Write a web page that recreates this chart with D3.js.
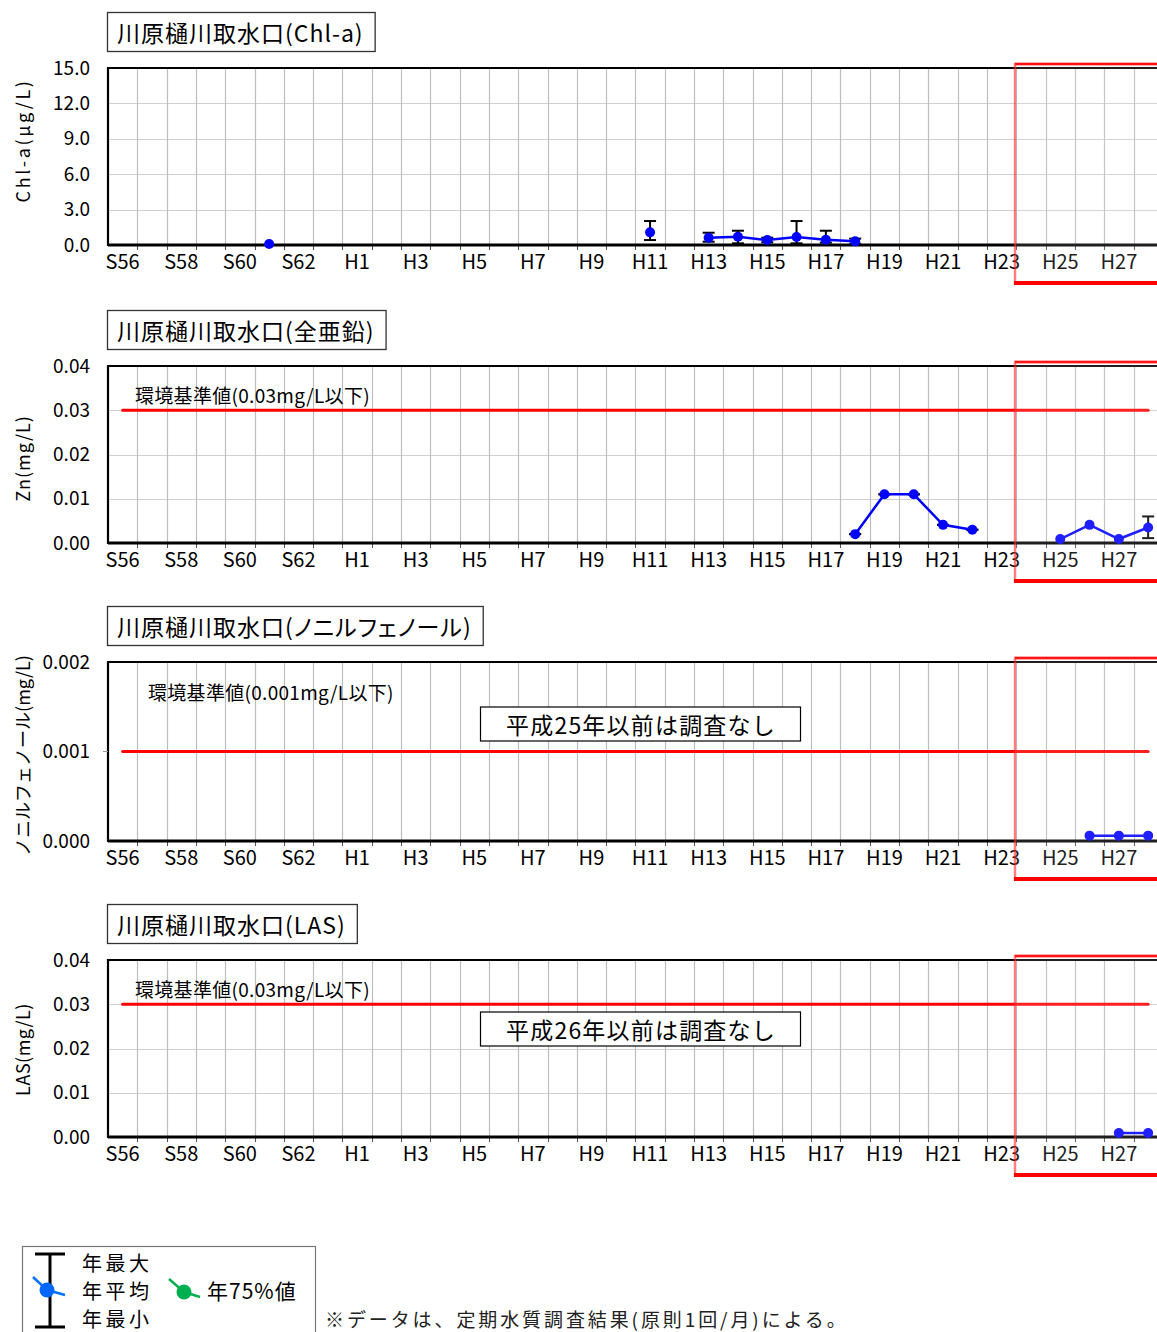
<!DOCTYPE html>
<html><head><meta charset="utf-8">
<script src="https://cdn.jsdelivr.net/npm/d3@7"></script>
<style>
html,body{margin:0;padding:0;background:#fff;}
svg{display:block;}
text{font-family:"Noto Sans CJK JP","Noto Sans",sans-serif;}
</style></head>
<body>
<script>
// ---------- data ----------
const categories = ["S56","S57","S58","S59","S60","S61","S62","S63",
  "H1","H2","H3","H4","H5","H6","H7","H8","H9","H10","H11","H12","H13","H14",
  "H15","H16","H17","H18","H19","H20","H21","H22","H23","H24","H25","H26","H27","H28"];
const xTickLabels = ["S56","S58","S60","S62","H1","H3","H5","H7","H9","H11",
  "H13","H15","H17","H19","H21","H23","H25","H27"];

const chlYears = ["S61","H11","H13","H14","H15","H16","H17","H18"];
const chlMean  = [0.08, 1.07, 0.62, 0.70, 0.42, 0.68, 0.45, 0.31];
const chlMax   = [null, 2.03, 1.04, 1.21, 0.62, 2.03, 1.21, 0.54];
const chlMin   = [null, 0.42, 0.28, 0.14, 0.23, 0.14, 0.20, 0.11];
const chlTicks = [0, 3, 6, 9, 12, 15];

const znYears = ["H18","H19","H20","H21","H22","H25","H26","H27","H28"];
const znMean  = [0.0020, 0.0110, 0.0110, 0.0041, 0.0030, 0.0009, 0.0041, 0.0009, 0.0035];
const znMax   = [0.0020, 0.0110, 0.0110, 0.0041, 0.0030, null, null, null, 0.0060];
const znMin   = [0.0020, 0.0110, 0.0110, 0.0041, 0.0030, null, null, null, 0.0011];
const znTicks = [0, 0.01, 0.02, 0.03, 0.04];
const znStandard = 0.03;

const npYears = ["H26","H27","H28"];
const npMean  = [0.00006, 0.00006, 0.00006];
const npTicks = [0, 0.001, 0.002];
const npStandard = 0.001;

const lasYears = ["H27","H28"];
const lasMean  = [0.0009, 0.0009];
const lasTicks = [0, 0.01, 0.02, 0.03, 0.04];
const lasStandard = 0.03;

const highlightFrom = "H24";

// ---------- chart setup ----------
const W = 1157, H = 1332;
const svg = d3.select("body").append("svg").attr("width", W).attr("height", H);

const plotLeft = 108, band = 29.3;
const x = d3.scaleBand().domain(categories).range([plotLeft, plotLeft + band * categories.length]).paddingInner(0).paddingOuter(0);
const xc = c => x(c) + x.bandwidth() / 2;

const charts = [
  {title:"川原樋川取水口(Chl-a)", ytitle:"Chl-a(μg/L)", ytSpacing:2.6, top:68, h:177, max:15, ticks:chlTicks, fmt:d3.format(".1f"),
   years:chlYears, mean:chlMean, hi:chlMax, lo:chlMin, hgrid:true, ytOff:-16},
  {title:"川原樋川取水口(全亜鉛)", ytitle:"Zn(mg/L)", ytSpacing:1, top:366, h:177, max:0.04, ticks:znTicks, fmt:d3.format(".2f"),
   years:znYears, mean:znMean, hi:znMax, lo:znMin, hgrid:true, std:znStandard,
   stdLabel:"環境基準値(0.03mg/L以下)", stdLabelX:135, stdLabelDy:28, ytOff:4},
  {title:"川原樋川取水口(ノニルフェノール)", titlePalt:true, ytitle:"ノニルフェノール(mg/L)", ytSpacing:0, top:662, h:179, max:0.002, ticks:npTicks, fmt:d3.format(".3f"),
   years:npYears, mean:npMean, hgrid:false, std:npStandard,
   stdLabel:"環境基準値(0.001mg/L以下)", stdLabelX:148, stdLabelDy:29, note:"平成25年以前は調査なし", noteDy:62, ytOff:4},
  {title:"川原樋川取水口(LAS)", ytitle:"LAS(mg/L)", ytSpacing:0.5, top:960, h:177, max:0.04, ticks:lasTicks, fmt:d3.format(".2f"),
   years:lasYears, mean:lasMean, hgrid:true, std:lasStandard,
   stdLabel:"環境基準値(0.03mg/L以下)", stdLabelX:135, stdLabelDy:28, note:"平成26年以前は調査なし", noteDy:69, ytOff:1}
];

const plotRight = plotLeft + band * categories.length;

charts.forEach(cfg => {
  const g = svg.append("g");
  const top = cfg.top, bottom = cfg.top + cfg.h;
  const y = d3.scaleLinear().domain([0, cfg.max]).range([bottom, top]);

  // title box
  const tt = g.append("text").attr("x", 117).attr("y", top - 36).attr("dominant-baseline", "central")
    .attr("font-size", 23).attr("letter-spacing", 1).attr("fill", "#000").text(cfg.title);
  if (cfg.titlePalt) tt.style("font-feature-settings", '"palt"');
  const tw = tt.node().getComputedTextLength();
  g.insert("rect", "text").attr("x", 107.5).attr("y", top - 55.5).attr("width", tw + 21).attr("height", 39)
    .attr("fill", "#fff").attr("stroke", "#333").attr("stroke-width", 1.3);

  // horizontal grid
  if (cfg.hgrid) {
    g.append("g").selectAll("line").data(cfg.ticks.filter(t => t > 0 && t < cfg.max)).join("line")
      .attr("x1", plotLeft).attr("x2", plotRight).attr("y1", d => Math.round(y(d)) + 0.5).attr("y2", d => Math.round(y(d)) + 0.5)
      .attr("stroke", "#d0d0d0").attr("stroke-width", 1.2);
  }
  // vertical grid at year boundaries + ticks below axis
  g.append("g").selectAll("line").data(categories.slice(1)).join("line")
    .attr("x1", d => Math.round(x(d)) + 0.5).attr("x2", d => Math.round(x(d)) + 0.5)
    .attr("y1", top).attr("y2", bottom + 5)
    .attr("stroke", "#bdbdbd").attr("stroke-width", 1.2);
  g.append("g").selectAll("line").data(categories.slice(1)).join("line")
    .attr("x1", d => Math.round(x(d)) + 0.5).attr("x2", d => Math.round(x(d)) + 0.5)
    .attr("y1", bottom).attr("y2", bottom + 5)
    .attr("stroke", "#555").attr("stroke-width", 1);

  // frame
  g.append("line").attr("x1", plotLeft).attr("x2", plotRight).attr("y1", top).attr("y2", top).attr("stroke", "#000").attr("stroke-width", 2.2);
  g.append("line").attr("x1", plotLeft).attr("x2", plotLeft).attr("y1", top - 1).attr("y2", bottom + 1).attr("stroke", "#000").attr("stroke-width", 2.2);
  g.append("line").attr("x1", plotLeft).attr("x2", plotRight).attr("y1", bottom).attr("y2", bottom).attr("stroke", "#000").attr("stroke-width", 3);

  // axes
  const xa = g.append("g").attr("transform", `translate(0,${bottom})`)
    .call(d3.axisBottom(x).tickValues(xTickLabels).tickSize(0).tickPadding(10));
  xa.select(".domain").remove();
  xa.selectAll("text").attr("font-size", 20).attr("font-family", '"Noto Sans CJK JP",sans-serif').attr("fill", "#000");

  const ya = g.append("g").attr("transform", `translate(${plotLeft},0)`)
    .call(d3.axisLeft(y).tickValues(cfg.ticks).tickFormat(cfg.fmt).tickSize(0).tickPadding(18));
  ya.select(".domain").remove();
  ya.selectAll("text").attr("font-size", 19).attr("font-family", '"Noto Sans CJK JP",sans-serif').attr("fill", "#000");
  if (!cfg.hgrid) {
    g.append("g").selectAll("line").data(cfg.ticks.filter(t => t > 0 && t < cfg.max)).join("line")
      .attr("x1", plotLeft - 5).attr("x2", plotLeft).attr("y1", d => y(d)).attr("y2", d => y(d)).attr("stroke", "#999");
  }

  // y title
  g.append("text").attr("transform", `translate(22,${(top + bottom) / 2 + cfg.ytOff}) rotate(-90)`)
    .attr("text-anchor", "middle").attr("dominant-baseline", "central").attr("font-size", 18)
    .attr("letter-spacing", cfg.ytSpacing).attr("fill", "#000").text(cfg.ytitle);

  // standard line
  if (cfg.std != null) {
    g.append("line").attr("x1", xc(categories[0])).attr("x2", xc(categories[categories.length - 1]))
      .attr("y1", y(cfg.std)).attr("y2", y(cfg.std)).attr("stroke", "#ff0000").attr("stroke-width", 3).attr("stroke-linecap", "round");
    g.append("text").attr("x", cfg.stdLabelX).attr("y", top + cfg.stdLabelDy).attr("dominant-baseline", "central")
      .attr("font-size", 19).attr("letter-spacing", 0.3).attr("fill", "#000").text(cfg.stdLabel);
  }
  if (cfg.note) {
    g.append("rect").attr("x", 480.5).attr("y", top + cfg.noteDy - 17).attr("width", 320).attr("height", 34)
      .attr("fill", "#fff").attr("stroke", "#000").attr("stroke-width", 1.2);
    g.append("text").attr("x", 641).attr("y", top + cfg.noteDy).attr("text-anchor", "middle").attr("dominant-baseline", "central")
      .attr("font-size", 23).attr("letter-spacing", 1.2).attr("fill", "#000").text(cfg.note);
  }

  // data
  const full = categories.map(c => {
    const i = cfg.years.indexOf(c);
    return i < 0 ? {c, v: null} : {c, v: cfg.mean[i], hi: cfg.hi ? cfg.hi[i] : null, lo: cfg.lo ? cfg.lo[i] : null};
  });
  // error bars
  const eb = full.filter(d => d.v != null && d.hi != null && d.lo != null);
  const ebG = g.append("g").attr("stroke", "#000").attr("stroke-width", 2);
  eb.forEach(d => {
    const cx = xc(d.c);
    ebG.append("line").attr("x1", cx).attr("x2", cx).attr("y1", y(d.hi)).attr("y2", y(d.lo));
    ebG.append("line").attr("x1", cx - 6).attr("x2", cx + 6).attr("y1", y(d.hi)).attr("y2", y(d.hi));
    ebG.append("line").attr("x1", cx - 6).attr("x2", cx + 6).attr("y1", y(d.lo)).attr("y2", y(d.lo));
  });
  const line = d3.line().defined(d => d.v != null).x(d => xc(d.c)).y(d => y(d.v));
  g.append("path").datum(full).attr("d", line).attr("fill", "none").attr("stroke", "#0000ff").attr("stroke-width", 2.5);
  g.append("g").selectAll("circle").data(full.filter(d => d.v != null)).join("circle")
    .attr("cx", d => xc(d.c)).attr("cy", d => y(d.v)).attr("r", 5).attr("fill", "#0000ff");

  // highlight box
  const hx = Math.round(x(highlightFrom)) - 1;
  const hTop = top - 4, hBot = bottom + 38;
  g.append("rect").attr("x", hx).attr("y", hTop).attr("width", W - hx + 20).attr("height", hBot - hTop)
    .attr("fill", "rgba(255,255,255,0.12)").attr("stroke", "rgba(255,40,40,0.6)").attr("stroke-width", 2.5);
  g.append("line").attr("x1", hx).attr("x2", W).attr("y1", hTop).attr("y2", hTop).attr("stroke", "rgba(255,0,0,0.85)").attr("stroke-width", 2.5);
  g.append("line").attr("x1", hx - 1).attr("x2", W).attr("y1", hBot).attr("y2", hBot).attr("stroke", "#ff0000").attr("stroke-width", 4);
});

// ---------- legend ----------
const lg = svg.append("g");
lg.append("rect").attr("x", 22.5).attr("y", 1246.5).attr("width", 293).attr("height", 120).attr("fill", "#fff").attr("stroke", "#777").attr("stroke-width", 1.2);
lg.append("line").attr("x1", 50).attr("x2", 50).attr("y1", 1254).attr("y2", 1327).attr("stroke", "#000").attr("stroke-width", 3);
lg.append("line").attr("x1", 35).attr("x2", 65).attr("y1", 1254).attr("y2", 1254).attr("stroke", "#000").attr("stroke-width", 3);
lg.append("line").attr("x1", 35).attr("x2", 65).attr("y1", 1327).attr("y2", 1327).attr("stroke", "#000").attr("stroke-width", 3);
lg.append("line").attr("x1", 33).attr("x2", 47).attr("y1", 1277).attr("y2", 1290).attr("stroke", "#0070ff").attr("stroke-width", 2.5);
lg.append("line").attr("x1", 47).attr("x2", 65).attr("y1", 1290).attr("y2", 1295).attr("stroke", "#0070ff").attr("stroke-width", 2.5);
lg.append("circle").attr("cx", 47).attr("cy", 1290).attr("r", 7.5).attr("fill", "#0066ff");
lg.append("line").attr("x1", 169).attr("x2", 184).attr("y1", 1279).attr("y2", 1292).attr("stroke", "#00b050").attr("stroke-width", 2.5);
lg.append("line").attr("x1", 184).attr("x2", 200).attr("y1", 1292).attr("y2", 1297).attr("stroke", "#00b050").attr("stroke-width", 2.5);
lg.append("circle").attr("cx", 184).attr("cy", 1292).attr("r", 7.5).attr("fill", "#00b050");
[["年最大", 1262], ["年平均", 1290], ["年最小", 1318]].forEach(([t, yy]) => {
  lg.append("text").attr("x", 82).attr("y", yy).attr("dominant-baseline", "central").attr("font-size", 20).attr("letter-spacing", 3.5).attr("fill", "#000").text(t);
});
lg.append("text").attr("x", 207).attr("y", 1290).attr("dominant-baseline", "central").attr("font-size", 21).attr("letter-spacing", 1).attr("fill", "#000").text("年75%値");

svg.append("text").attr("x", 325).attr("y", 1318).attr("dominant-baseline", "central").attr("font-size", 19)
  .attr("letter-spacing", 2.9).attr("font-family", '"DejaVu Serif","Noto Sans CJK JP",serif').attr("fill", "#222")
  .text("※データは、定期水質調査結果(原則1回/月)による。");
</script>
</body></html>
